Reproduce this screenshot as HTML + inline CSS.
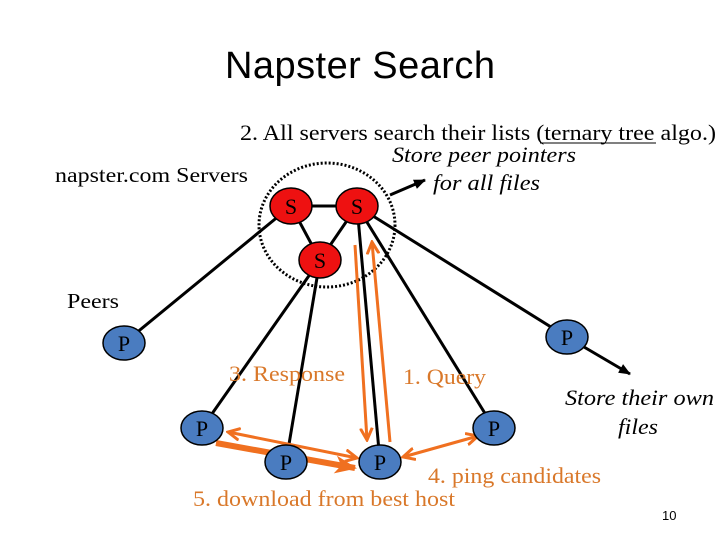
<html><body style="margin:0;width:720px;height:540px;background:#fff;overflow:hidden">
<svg width="720" height="540" xmlns="http://www.w3.org/2000/svg" font-family="Liberation Serif, serif">
<defs>
<marker id="bk" markerWidth="12" markerHeight="10" refX="11" refY="5" orient="auto" markerUnits="userSpaceOnUse"><path d="M0,0 L12,5 L0,10 Z" fill="#000"/></marker>
<marker id="or" markerWidth="14" markerHeight="14" refX="12" refY="7" orient="auto" markerUnits="userSpaceOnUse"><path d="M0,1 L12,7 L0,13" fill="none" stroke="#f07020" stroke-width="3"/></marker>
<marker id="ors" markerWidth="14" markerHeight="14" refX="2" refY="7" orient="auto" markerUnits="userSpaceOnUse"><path d="M14,1 L2,7 L14,13" fill="none" stroke="#f07020" stroke-width="3"/></marker>
<marker id="orf" markerWidth="22" markerHeight="18" refX="20" refY="9" orient="auto" markerUnits="userSpaceOnUse"><path d="M0,0 L22,9 L0,18 L6,9 Z" fill="#f07020"/></marker>
</defs>
<text x="225" y="78" textLength="270" font-family="Liberation Sans, sans-serif" font-size="38">Napster Search</text>
<text x="240" y="140" font-size="22" textLength="476" lengthAdjust="spacingAndGlyphs">2. All servers search their lists (ternary tree algo.)</text>
<line x1="540" y1="143" x2="656" y2="143" stroke="#000" stroke-width="1"/>
<text x="55" y="182" font-size="21" textLength="193" lengthAdjust="spacingAndGlyphs">napster.com Servers</text>
<text x="392" y="162" font-size="22" font-style="italic" textLength="184" lengthAdjust="spacingAndGlyphs">Store peer pointers</text>
<text x="433" y="190" font-size="22" font-style="italic" textLength="107" lengthAdjust="spacingAndGlyphs">for all files</text>
<text x="67" y="308" font-size="21" textLength="52" lengthAdjust="spacingAndGlyphs">Peers</text>
<text x="565" y="405" font-size="22" font-style="italic" textLength="149" lengthAdjust="spacingAndGlyphs">Store their own</text>
<text x="618" y="434" font-size="22" font-style="italic" textLength="40" lengthAdjust="spacingAndGlyphs">files</text>
<text x="662" y="520" font-size="13" font-family="Liberation Sans, sans-serif">10</text>
<ellipse cx="327" cy="225" rx="68" ry="62" fill="none" stroke="#000" stroke-width="3" stroke-dasharray="2,2"/>
<g stroke="#000" stroke-width="3">
<line x1="291" y1="206" x2="357" y2="206"/><line x1="291" y1="206" x2="320" y2="260"/><line x1="357" y1="206" x2="320" y2="260"/>
<line x1="291" y1="206" x2="124" y2="343"/>
<line x1="320" y1="260" x2="202" y2="428"/><line x1="320" y1="260" x2="286" y2="462"/>
<line x1="357" y1="206" x2="380" y2="462"/><line x1="357" y1="206" x2="494" y2="428"/><line x1="357" y1="206" x2="567" y2="337"/>
</g>
<line x1="390" y1="195" x2="425" y2="180" stroke="#000" stroke-width="3" marker-end="url(#bk)"/>
<line x1="567" y1="337" x2="630" y2="374" stroke="#000" stroke-width="3" marker-end="url(#bk)"/>
<g stroke="#f07020" stroke-width="3" fill="none">
<line x1="355" y1="245" x2="367" y2="440" marker-end="url(#or)"/>
<line x1="390" y1="442" x2="372" y2="242" marker-end="url(#or)"/>
<line x1="228" y1="432" x2="357" y2="458" marker-start="url(#ors)" marker-end="url(#or)"/>
<line x1="216" y1="443" x2="355" y2="468" stroke-width="6" marker-end="url(#orf)"/>
<line x1="403" y1="457" x2="478" y2="436" marker-start="url(#ors)" marker-end="url(#or)"/>
</g>
<g fill="#ee1111" stroke="#000" stroke-width="1.5">
<ellipse cx="291" cy="206" rx="21" ry="18"/><ellipse cx="357" cy="206" rx="21" ry="18"/><ellipse cx="320" cy="260" rx="21" ry="18"/>
</g>
<g fill="#4a7cc0" stroke="#000" stroke-width="1.5">
<ellipse cx="124" cy="343" rx="21" ry="17"/><ellipse cx="567" cy="337" rx="21" ry="17"/><ellipse cx="202" cy="428" rx="21" ry="17"/>
<ellipse cx="286" cy="462" rx="21" ry="17"/><ellipse cx="380" cy="462" rx="21" ry="17"/><ellipse cx="494" cy="428" rx="21" ry="17"/>
</g>
<g font-size="22" text-anchor="middle">
<text x="291" y="214">S</text><text x="357" y="214">S</text><text x="320" y="268">S</text>
<text x="124" y="351">P</text><text x="567" y="345">P</text><text x="202" y="436">P</text>
<text x="286" y="470">P</text><text x="380" y="470">P</text><text x="494" y="436">P</text>
</g>
<g fill="#d9782a" font-size="22">
<text x="229" y="381" textLength="116" lengthAdjust="spacingAndGlyphs">3. Response</text>
<text x="403" y="384" textLength="83" lengthAdjust="spacingAndGlyphs">1. Query</text>
<text x="428" y="483" textLength="173" lengthAdjust="spacingAndGlyphs">4. ping candidates</text>
<text x="193" y="506" textLength="262" lengthAdjust="spacingAndGlyphs">5. download from best host</text>
</g>
</svg>
</body></html>
